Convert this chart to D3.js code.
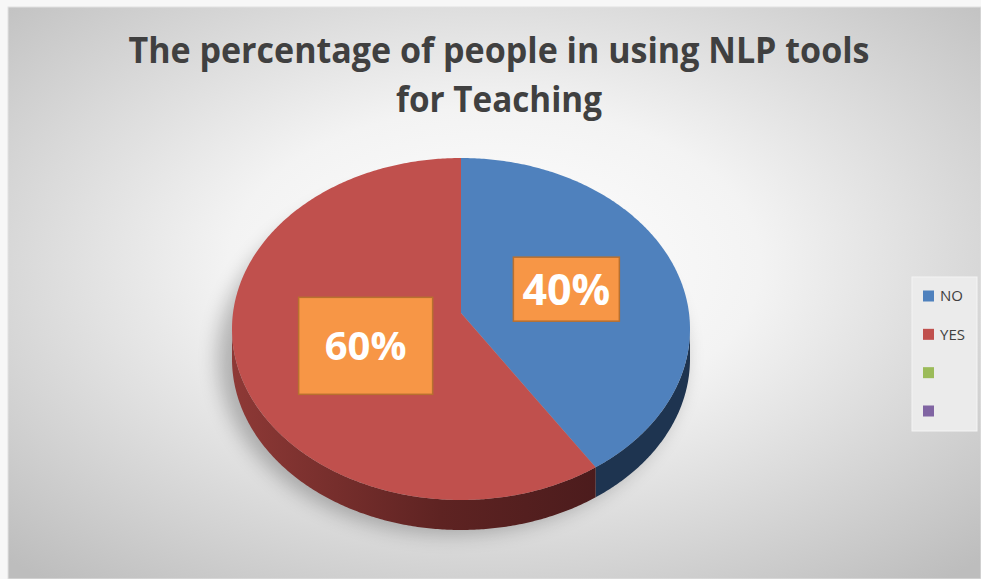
<!DOCTYPE html>
<html>
<head>
<meta charset="utf-8">
<script src="https://cdn.jsdelivr.net/npm/d3@7"></script>
<style>
  body { margin: 0; background: #f7f7f7; }
  svg { display: block; }
  .title { font-family: "Open Sans", sans-serif; font-weight: bold; fill: #404040; }
  .legend text { font-family: "Open Sans", sans-serif; font-size: 15px; fill: #404040; }
  .lbl { font-family: "Open Sans", sans-serif; font-weight: bold; fill: #fff; }
</style>
</head>
<body>
<script>
// data
var categories = ["NO", "YES", "", ""];
var values = [40, 60, 0, 0];
var labels = ["40%", "60%"];
var titleLines = ["The percentage of people in using NLP tools", "for Teaching"];

var topColors = ["#4f81bd", "#c0504d", "#9bbb59", "#8064a2"];
var sideColors = ["#1e3450", "url(#redSide)", "#5d7236", "#4d3c62"];

var W = 981, H = 579;
var cx = 461, cy = 329, rx = 229, ry = 171, depth = 30;
var apex = {x: 461, y: 313};   // slice centre sits a bit above the ellipse centre (perspective)

var svg = d3.select("body").append("svg").attr("width", W).attr("height", H);
var defs = svg.append("defs");

var bg = defs.append("radialGradient").attr("id", "bg")
    .attr("cx", "50%").attr("cy", "45%").attr("r", "72%");
bg.append("stop").attr("offset", "0").attr("stop-color", "#ffffff");
bg.append("stop").attr("offset", "0.38").attr("stop-color", "#f3f3f3");
bg.append("stop").attr("offset", "1").attr("stop-color", "#bdbdbd");

var rs = defs.append("linearGradient").attr("id", "redSide")
    .attr("gradientUnits", "userSpaceOnUse")
    .attr("x1", cx - rx).attr("x2", cx + 150).attr("y1", 0).attr("y2", 0);
rs.append("stop").attr("offset", "0").attr("stop-color", "#8e3936");
rs.append("stop").attr("offset", "0.55").attr("stop-color", "#5e2322");
rs.append("stop").attr("offset", "1").attr("stop-color", "#4a1b1c");

defs.append("filter").attr("id", "blur").attr("x", "-30%").attr("y", "-30%")
    .attr("width", "160%").attr("height", "160%")
  .append("feGaussianBlur").attr("stdDeviation", 10);

// chart area
svg.append("rect").attr("x", 8).attr("y", 7).attr("width", W - 8).attr("height", H - 7)
    .attr("fill", "url(#bg)").attr("stroke", "#e2e2e2").attr("stroke-width", 1);

// title
svg.selectAll(".title").data(titleLines).enter().append("text")
    .attr("class", "title")
    .attr("x", 499)
    .attr("y", function(d, i) { return 63 + i * 49; })
    .attr("text-anchor", "middle")
    .attr("font-size", 36)
    .attr("textLength", function(d, i) { return i == 0 ? 741 : 206; })
    .attr("lengthAdjust", "spacingAndGlyphs")
    .text(function(d) { return d; });

// pie geometry
var pie = d3.pie().sort(null).value(function(d) { return d; });
var arcs = pie(values);

function rim(a, dy) {
  return [cx + rx * Math.sin(a), cy - ry * Math.cos(a) + (dy || 0)];
}
function sample(a0, a1) {
  var n = Math.max(2, Math.ceil(Math.abs(a1 - a0) / 0.01));
  return d3.range(n + 1).map(function(i) { return a0 + (a1 - a0) * i / n; });
}
var line = d3.line();

// shadow
svg.append("ellipse").attr("cx", cx - 10).attr("cy", cy + 28)
    .attr("rx", rx + 4).attr("ry", ry + 6)
    .attr("fill", "#000").attr("opacity", 0.26).attr("filter", "url(#blur)");

// sides (front half only)
var g = svg.append("g");
arcs.forEach(function(d, i) {
  if (d.value <= 0) return;
  var s = Math.max(d.startAngle, Math.PI / 2), e = Math.min(d.endAngle, Math.PI * 1.5);
  if (e <= s) return;
  var angs = sample(s, e);
  var pts = angs.map(function(a) { return rim(a); })
    .concat(angs.slice().reverse().map(function(a) { return rim(a, depth); }));
  g.append("path").attr("d", line(pts) + "Z").attr("fill", sideColors[i]);
});

// tops
arcs.forEach(function(d, i) {
  if (d.value <= 0) return;
  var pts = [[apex.x, apex.y]].concat(sample(d.startAngle, d.endAngle).map(function(a) { return rim(a); }));
  g.append("path").attr("d", line(pts) + "Z").attr("fill", topColors[i]);
});

// data labels (boxes were resized by hand in the original)
var boxSize = [[106, 64], [134, 97]];
var fontSize = [43, 40];
var nudge = [[3, 1], [7, 8]];
arcs.slice(0, labels.length).forEach(function(d, i) {
  var m = (d.startAngle + d.endAngle) / 2;
  var lx = apex.x + 0.47 * rx * Math.sin(m) + nudge[i][0];
  var ly = apex.y - 0.47 * ry * Math.cos(m) + nudge[i][1];
  var lg = svg.append("g").attr("transform", "translate(" + lx + "," + ly + ")");
  lg.append("rect")
    .attr("x", -boxSize[i][0] / 2).attr("y", -boxSize[i][1] / 2)
    .attr("width", boxSize[i][0]).attr("height", boxSize[i][1])
    .attr("fill", "#f79646").attr("stroke", "#b8702f").attr("stroke-width", 1.5);
  lg.append("text").attr("class", "lbl")
    .attr("text-anchor", "middle").attr("dy", "0.36em")
    .attr("font-size", fontSize[i])
    .text(labels[i]);
});

// legend
var legend = svg.append("g").attr("class", "legend");
legend.append("rect").attr("x", 912).attr("y", 277).attr("width", 65).attr("height", 154)
    .attr("fill", "#ebebeb").attr("stroke", "#f4f4f4");
var ly = d3.scalePoint().domain(d3.range(categories.length)).range([296, 411]);
var items = legend.selectAll(".item").data(categories).enter().append("g")
    .attr("transform", function(d, i) { return "translate(923," + ly(i) + ")"; });
items.append("rect").attr("x", 0).attr("y", -5.5).attr("width", 11).attr("height", 11)
    .attr("fill", function(d, i) { return topColors[i]; });
items.append("text").attr("x", 17).attr("dy", "0.35em").text(function(d) { return d; });
</script>
</body>
</html>
